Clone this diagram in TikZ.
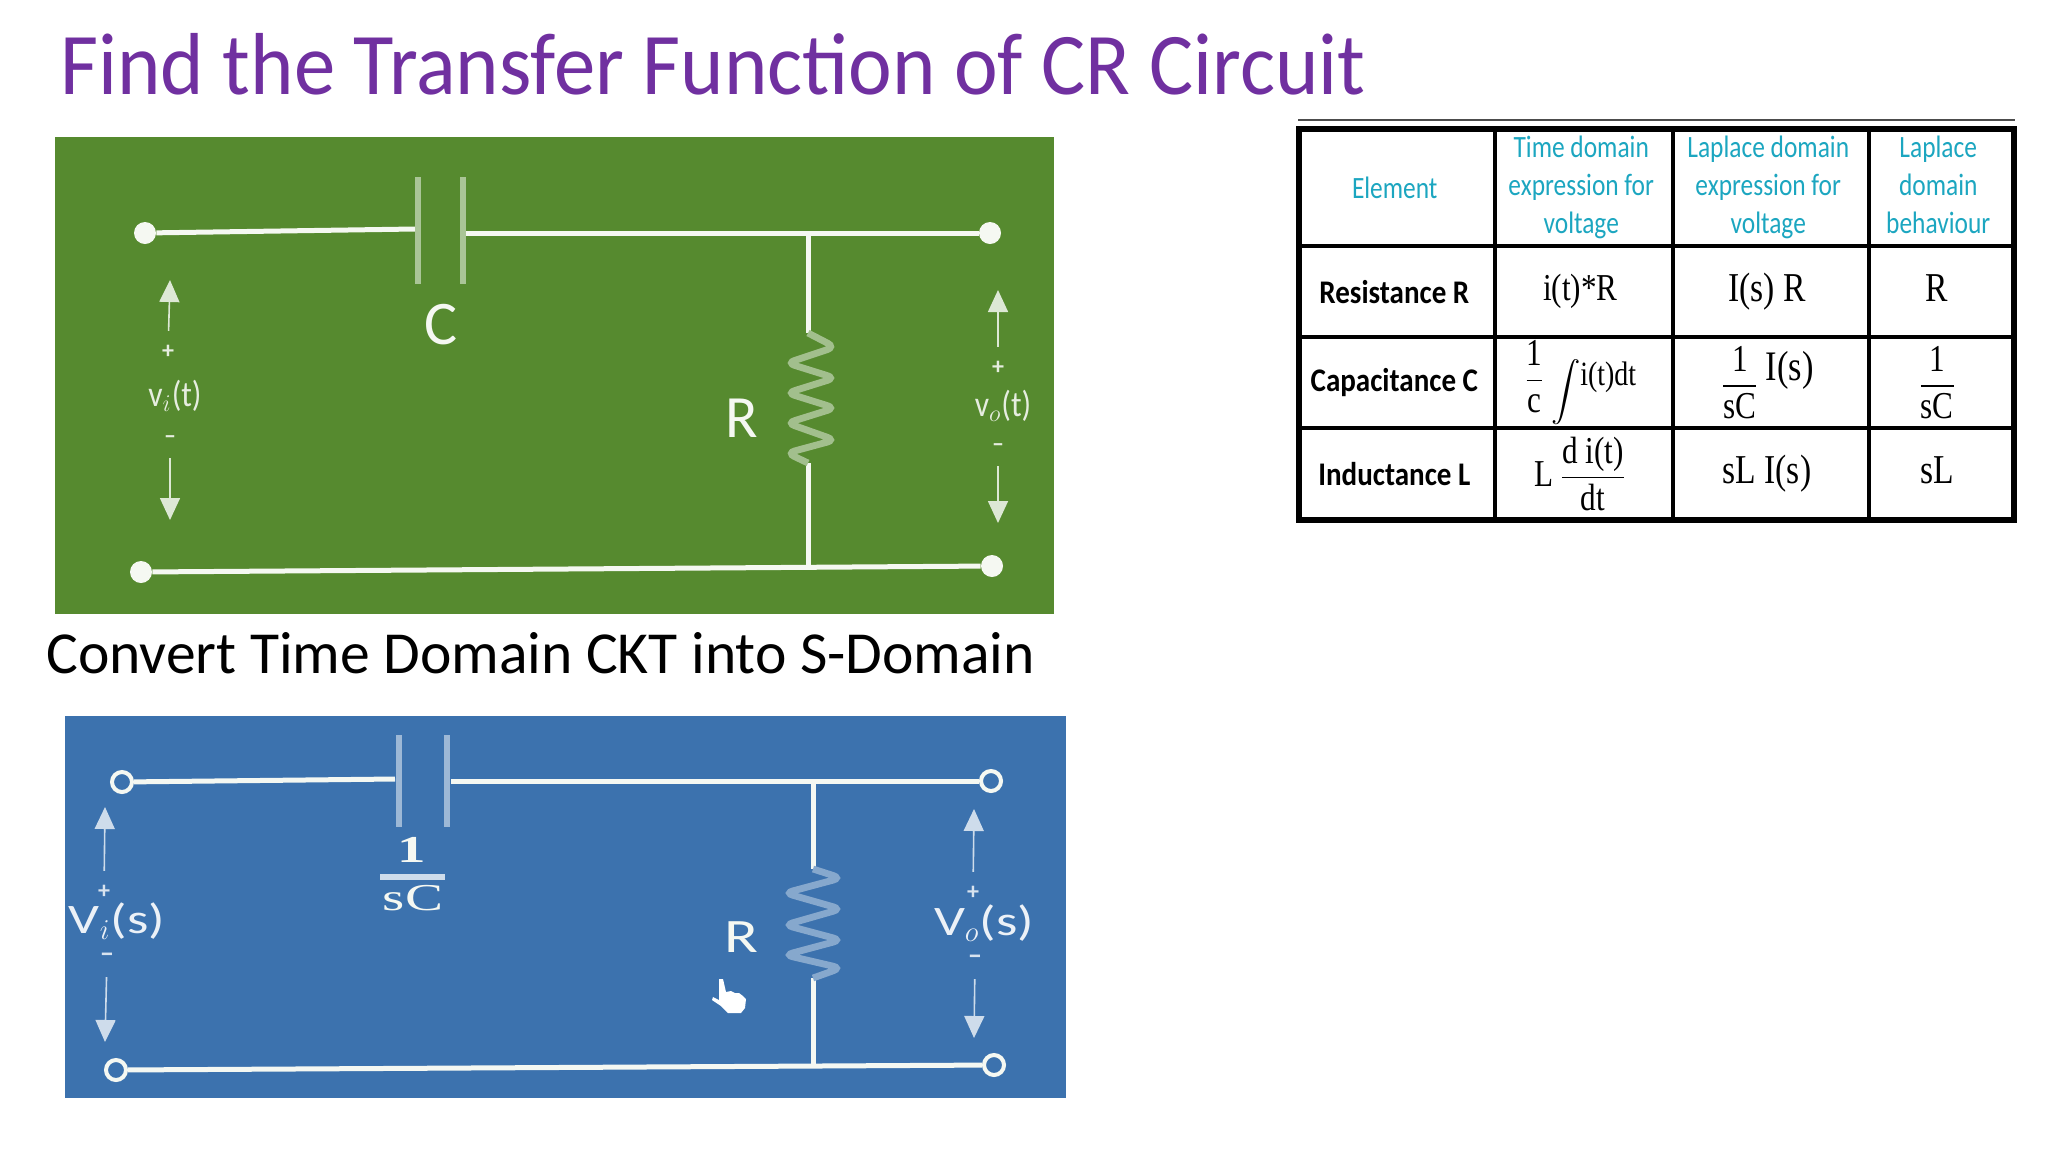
\documentclass[tikz,border=0pt]{standalone}
\usepackage{amsmath}
\usepackage{fontspec}
\setmainfont{Carlito}
\newfontfamily\titlefont[FakeStretch=0.94]{Carlito}
\newfontfamily\headfont[FakeStretch=0.82]{Carlito}
\newfontfamily\boldfont[FakeStretch=0.88]{Carlito}
\newfontfamily\cellfont[FakeStretch=0.82]{Liberation Serif}
\newfontfamily\widefont[FakeStretch=1.3]{Carlito}
\newfontfamily\wideserif[FakeStretch=1.5]{Liberation Serif}
\usetikzlibrary {
  matrix,
  positioning,
  arrows.meta,
}
\definecolor{titlepurple}{HTML}{7030A0}
\definecolor{panelgreen}{HTML}{568A2F}
\definecolor{panelblue}{HTML}{3C72AE}
\definecolor{headcyan}{HTML}{1CA6C0}
\definecolor{wirewhite}{HTML}{F5F8F2}
\tikzset{
  wire/.style = {
    line width = 2.5pt,
    color = wirewhite
  },
  plate/.style = {
    line width = 2.8pt,
    color = #1
  },
  zig/.style = {
    line width = 3.4pt,
    rounded corners = 4pt,
    color = #1
  },
  volt/.style = {
    -{Triangle[width = 10pt, length = 11pt]},
    line width = .8pt,
    shorten <= 7pt,
    color = #1
  },
  dot/.style = {
    circle,
    fill = wirewhite,
    inner sep = 0pt,
    minimum size = 11pt
  },
  ring/.style = {
    circle,
    draw = wirewhite,
    line width = 2pt,
    fill = panelblue,
    inner sep = 0pt,
    minimum size = 10pt
  },
  lab/.style = {
    inner sep = 0pt,
    text = #1
  },
  grid/.style = {
    matrix of nodes,
    row sep = -1.7pt,
    column sep = -1.7pt,
    inner sep = 0pt,
    line width = 2.4pt,
    anchor = north west,
    nodes = {rectangle, draw = black, line width = 1.7pt, anchor = center,
      align = center, inner sep = 0pt, outer sep = 0pt,
      font = \fontsize{19}{21}\cellfont},
    column 1/.style = {nodes = {minimum width = 97.5pt,
      font = \fontsize{16.5}{19}\boldfont\bfseries}},
    column 2/.style = {nodes = {minimum width = 89pt}},
    column 3/.style = {nodes = {minimum width = 98pt}},
    column 4/.style = {nodes = {minimum width = 72pt}},
    row 1/.style = {nodes = {minimum height = 58pt, text = headcyan,
      font = \fontsize{15.5}{19}\headfont}},
    row 2/.style = {nodes = {minimum height = 45.5pt}},
    row 3/.style = {nodes = {minimum height = 45.5pt}},
    row 4/.style = {nodes = {minimum height = 45.5pt}},
    ampersand replacement = \&
  },
}
\newcommand{\ofrac}[2]{$\dfrac{\mbox{#1\rule[-2pt]{0pt}{0pt}}}{\mbox{#2}}$}
\newcommand{\lines}[3]{\begin{tabular}{@{}c@{}}#1\\#2\\#3\end{tabular}}

\begin{document}
\begin{tikzpicture}[x = .5pt, y = -.5pt]
  \useasboundingbox (0,0) rectangle (2048,1152);
  \node[lab = titlepurple, anchor = base west, font = \fontsize{44}{48}\titlefont]
    (title) at (60,94) {Find the Transfer Function of CR Circuit};
  \node[lab = black, anchor = base west, font = \fontsize{29.8}{32}\selectfont]
    (convert) at (46,673) {Convert Time Domain CKT into S-Domain};
  % time domain circuit
  \fill[panelgreen] (55,137) rectangle (1054,614);
  \node[dot] (gA) at (145,233) {};
  \node[dot] (gB) at (990,233) {};
  \node[dot] (gD) at (141,572) {};
  \node[dot] (gE) at (992,566) {};
  \coordinate (gC1) at (415,229);
  \coordinate (gC2) at (466,233);
  \coordinate (gJ1) at (808,233);
  \coordinate (gR1) at (808,333);
  \coordinate (gR2) at (808,463);
  \coordinate (gJ2) at (808,566);
  \draw[wire] (gA) -- (gC1);
  \draw[wire] (gC2) -- (gB);
  \draw[wire] (gD) -- (gE);
  \draw[wire] (gJ1) -- (gR1);
  \draw[wire] (gR2) -- (gJ2);
  \draw[plate = white!50!panelgreen] (418,177) -- (418,284);
  \draw[plate = white!50!panelgreen] (463,177) -- (463,284);
  \draw[zig = white!45!panelgreen] (gR1) -- ++(27,14) -- ++(-48,16) -- ++(48,15) -- ++(-48,15)
    -- ++(48,15) -- ++(-48,15) -- ++(48,17) -- ++(-48,13) -- (gR2);
  \node[lab = wirewhite, font = \fontsize{31}{33}\selectfont] (gCap) at (441,325) {C};
  \node[lab = wirewhite, font = \fontsize{30}{33}\selectfont] (gRes) at (742,418) {R};
  \node[lab = white!85!panelgreen, font = \fontsize{18}{20}\boldfont] (gVi) at (175,396) {v$_{i}$(t)};
  \node[lab = white!85!panelgreen, font = \fontsize{18}{20}\boldfont] (gVo) at (1003,406) {v$_{o}$(t)};
  \node[lab = white!85!panelgreen, font = \bfseries\large] (gp1) at (168,352) {+};
  \node[lab = white!85!panelgreen, font = \bfseries\large] (gm1) at (170,440) {--};
  \node[lab = white!85!panelgreen, font = \bfseries\large] (gp2) at (998,368) {+};
  \node[lab = white!85!panelgreen, font = \bfseries\large] (gm2) at (998,448) {--};
  \coordinate (gt1) at (170,280);
  \coordinate (gb1) at (170,520);
  \coordinate (gt2) at (998,290);
  \coordinate (gb2) at (998,523);
  \draw[volt = white!80!panelgreen] (gp1) -- (gt1);
  \draw[volt = white!80!panelgreen] (gm1) -- (gb1);
  \draw[volt = white!80!panelgreen] (gp2) -- (gt2);
  \draw[volt = white!80!panelgreen] (gm2) -- (gb2);
  % s domain circuit
  \fill[panelblue] (65,716) rectangle (1066,1098);
  \node[ring] (bA) at (122,782) {};
  \node[ring] (bB) at (991,781) {};
  \node[ring] (bD) at (116,1070) {};
  \node[ring] (bE) at (994,1065) {};
  \coordinate (bC1) at (395,779);
  \coordinate (bC2) at (451,781);
  \coordinate (bJ1) at (813,781);
  \coordinate (bR1) at (813,869);
  \coordinate (bR2) at (813,978);
  \coordinate (bJ2) at (813,1067);
  \draw[wire] (bA) -- (bC1);
  \draw[wire] (bC2) -- (bB);
  \draw[wire] (bD) -- (bE);
  \draw[wire] (bJ1) -- (bR1);
  \draw[wire] (bR2) -- (bJ2);
  \draw[plate = white!50!panelblue] (399,735) -- (399,827);
  \draw[plate = white!50!panelblue] (447,735) -- (447,827);
  \draw[zig = white!38!panelblue] (bR1) -- ++(28,9) -- ++(-56,15) -- ++(56,16) -- ++(-56,16)
    -- ++(56,15) -- ++(-56,15) -- ++(56,13) -- (bR2);
  \node[lab = wirewhite, font = \fontsize{19}{21}\wideserif\bfseries] (bOne) at (412,850) {1};
  \node[lab = wirewhite, font = \fontsize{19}{21}\wideserif] (bsC) at (413,898) {sC};
  \coordinate (bBar1) at (380,877);
  \coordinate (bBar2) at (445,877);
  \draw[plate = white!75!panelblue] (bBar1) -- (bBar2);
  \node[lab = wirewhite, font = \fontsize{24}{26}\widefont] (bRes) at (741,937) {R};
  \node[lab = white!90!panelblue, font = \fontsize{21}{23}\widefont] (bVi) at (117,921) {V$_{i}$(s)};
  \node[lab = white!90!panelblue, font = \fontsize{21}{23}\widefont] (bVo) at (984,923) {V$_{o}$(s)};
  \node[lab = white!80!panelblue, font = \bfseries\large] (bp1) at (104,892) {+};
  \node[lab = white!80!panelblue, font = \bfseries\Large] (bm1) at (107,958) {--};
  \node[lab = white!80!panelblue, font = \bfseries\large] (bp2) at (973,893) {+};
  \node[lab = white!80!panelblue, font = \bfseries\Large] (bm2) at (975,960) {--};
  \coordinate (bt1) at (105,807);
  \coordinate (bb1) at (105,1042);
  \coordinate (bt2) at (974,809);
  \coordinate (bb2) at (974,1038);
  \draw[volt = white!75!panelblue] (bp1) -- (bt1);
  \draw[volt = white!75!panelblue] (bm1) -- (bb1);
  \draw[volt = white!75!panelblue] (bp2) -- (bt2);
  \draw[volt = white!75!panelblue] (bm2) -- (bb2);
  % hand cursor
  \fill[white] (719,979) -- (723,979) -- (726,992) -- (731,991) -- (735,993) -- (739,993)
    -- (743,996) -- (746,999) -- (745,1008) -- (741,1013) -- (728,1013) -- (721,1006)
    -- (712,1000) -- (713,997) -- (719,1000) -- cycle;
  % laplace table
  \draw[black!70, line width = 1.4pt] (1298,120) -- (2015,120);
  \node[grid, draw] (T) at (1296,126) {
    Element \& \lines{Time domain}{expression for}{voltage} \& \lines{Laplace domain}{expression for}{voltage} \& \lines{Laplace}{domain}{behaviour} \\
    Resistance R \& i(t)*R \& \fontsize{20.5}{22}\selectfont I(s) R \& \fontsize{20.5}{22}\selectfont\vphantom{(}R \\
    Capacitance C \& \ofrac{1}{c}\,\raisebox{-5pt}{\scalebox{.85}{$\displaystyle\int$}}\raisebox{2pt}{\fontsize{17}{19}\selectfont i(t)dt} \& \ofrac{1}{sC}\raisebox{7pt}{\fontsize{21}{23}\selectfont\,I(s)} \& \ofrac{1}{sC} \\
    Inductance L \& L\,$\dfrac{\mbox{d i(t)}}{\mbox{dt}}$ \& \fontsize{20.5}{22}\selectfont sL I(s) \& \fontsize{20.5}{22}\selectfont\vphantom{(}sL \\
  };
\end{tikzpicture}
\end{document}
